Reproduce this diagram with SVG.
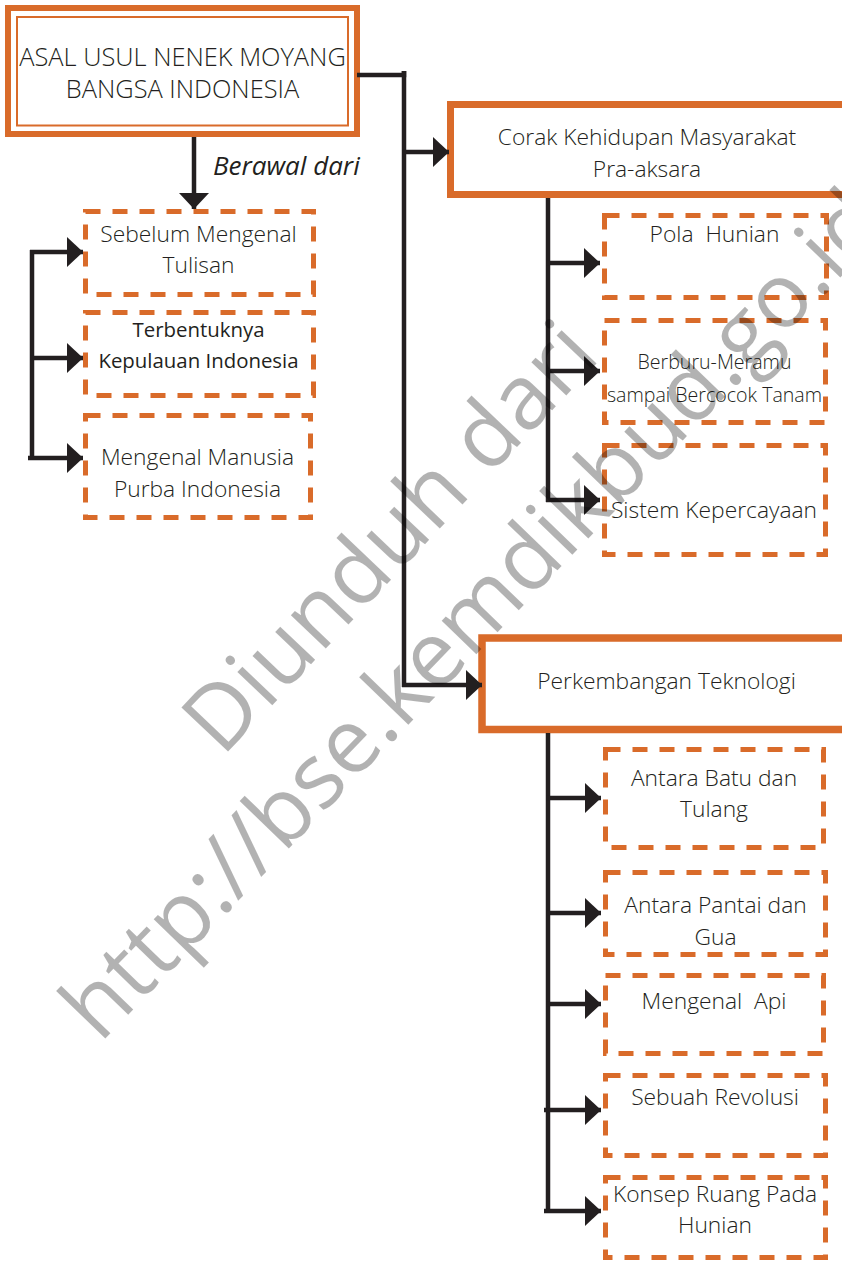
<svg xmlns="http://www.w3.org/2000/svg" width="842" height="1261" viewBox="0 0 842 1261">
<style>
  text { font-family: "Open Sans", "Liberation Sans", sans-serif; fill: #231F20; }
  .t { font-size: 22.8px; font-weight: 300; text-anchor: middle; }
  .ts { font-size: 19.6px; font-weight: 300; text-anchor: middle; }
  .tr { font-size: 20.4px; font-weight: 400; text-anchor: middle; }
  .title { font-size: 25.4px; font-weight: 300; text-anchor: middle; }
  .lbl { font-size: 26px; font-style: italic; font-weight: 400; }
  .thick { fill: #fff; stroke: #D96B2A; }
  .dash { fill: #fff; stroke: #D96B2A; stroke-width: 5; stroke-dasharray: 15 12; }
  .conn line, .conn polyline { stroke: #231F20; stroke-width: 4.5; fill: none; }
  .arr { marker-end: url(#ah); }
  .wm { font-family: "Open Sans", "Liberation Sans", sans-serif; font-size: 90px; fill: #000; fill-opacity: 0.3; }
</style>
<defs>
  <marker id="ah" markerUnits="userSpaceOnUse" markerWidth="17" markerHeight="31" refX="16" refY="15" orient="auto" viewBox="0 0 17 31">
    <path d="M0,0 L16,15 L0,30 Z" fill="#231F20"/>
  </marker>
</defs>
<rect width="842" height="1261" fill="#fff"/>

<g id="root">
  <rect class="thick" x="8" y="8" width="349" height="126" stroke-width="6"/>
  <rect x="17" y="17" width="331" height="108.5" fill="none" stroke="#D96B2A" stroke-width="2"/>
  <text class="title" x="182.5" y="66">ASAL USUL NENEK MOYANG</text>
  <text class="title" x="182.5" y="98">BANGSA INDONESIA</text>
</g>

<g id="label-berawal">
  <text class="lbl" x="213" y="175">Berawal dari</text>
</g>

<g id="sebelum">
  <rect class="dash" x="85.5" y="211.5" width="228" height="83"/>
  <text class="t" x="198.5" y="242">Sebelum Mengenal</text>
  <text class="t" x="198.5" y="273">Tulisan</text>
</g>
<g id="terbentuknya">
  <rect class="dash" x="85.5" y="312.5" width="228" height="83"/>
  <text class="tr" x="198.5" y="337">Terbentuknya</text>
  <text class="tr" x="198.5" y="368">Kepulauan Indonesia</text>
</g>
<g id="manusia">
  <rect class="dash" x="85.5" y="415.5" width="225" height="102"/>
  <text class="t" x="197.5" y="465">Mengenal Manusia</text>
  <text class="t" x="197.5" y="497">Purba Indonesia</text>
</g>

<g id="corak">
  <rect class="thick" x="450.5" y="104.5" width="420" height="90" stroke-width="7"/>
  <text class="t" x="647" y="145">Corak Kehidupan Masyarakat</text>
  <text class="t" x="647" y="177">Pra-aksara</text>
</g>
<g id="pola">
  <rect class="dash" x="604.5" y="215.5" width="222" height="82"/>
  <text class="t" x="714.5" y="242" xml:space="preserve" style="white-space:pre">Pola  Hunian</text>
</g>
<g id="berburu">
  <rect class="dash" x="604.5" y="320.5" width="221" height="102"/>
  <text class="ts" x="714.5" y="369">Berburu-Meramu</text>
  <text class="ts" x="714.5" y="402">sampai Bercocok Tanam</text>
</g>
<g id="sistem">
  <rect class="dash" x="604.5" y="445.5" width="221" height="109"/>
  <text class="t" x="714" y="518">Sistem Kepercayaan</text>
</g>

<g id="perkembangan">
  <rect class="thick" x="482" y="638" width="380" height="91.5" stroke-width="7.5"/>
  <text class="t" x="666.5" y="689">Perkembangan Teknologi</text>
</g>
<g id="batu">
  <rect class="dash" x="605.5" y="749.5" width="218" height="98"/>
  <text class="t" x="714" y="786">Antara Batu dan</text>
  <text class="t" x="714" y="817">Tulang</text>
</g>
<g id="pantai">
  <rect class="dash" x="605.5" y="872.5" width="220" height="82"/>
  <text class="t" x="715.5" y="913">Antara Pantai dan</text>
  <text class="t" x="715.5" y="945">Gua</text>
</g>
<g id="api">
  <rect class="dash" x="605.5" y="975.5" width="218" height="78"/>
  <text class="t" x="714" y="1009" xml:space="preserve" style="white-space:pre">Mengenal  Api</text>
</g>
<g id="revolusi">
  <rect class="dash" x="605.5" y="1075.5" width="220" height="80"/>
  <text class="t" x="715" y="1105">Sebuah Revolusi</text>
</g>
<g id="konsep">
  <rect class="dash" x="605.5" y="1177.5" width="220" height="80"/>
  <text class="t" x="715" y="1202">Konsep Ruang Pada</text>
  <text class="t" x="715" y="1233">Hunian</text>
</g>

<g id="connectors" class="conn">
  <polyline points="357,75 404,75 404,71"/>
  <line x1="404" y1="71" x2="404" y2="687"/>
  <line class="arr" x1="402" y1="152" x2="449" y2="152"/>
  <line class="arr" x1="402" y1="685" x2="482" y2="685"/>
  <line class="arr" x1="194" y1="137" x2="194" y2="209"/>

  <line x1="32" y1="250" x2="32" y2="460"/>
  <line class="arr" x1="30" y1="252" x2="83" y2="252"/>
  <line class="arr" x1="30" y1="358" x2="83" y2="358"/>
  <line class="arr" x1="28" y1="458" x2="83" y2="458"/>

  <line x1="548" y1="198" x2="548" y2="502"/>
  <line class="arr" x1="546" y1="263" x2="600" y2="263"/>
  <line class="arr" x1="546" y1="371" x2="600" y2="371"/>
  <line class="arr" x1="546" y1="500" x2="600" y2="500"/>

  <line x1="548" y1="733" x2="548" y2="1213"/>
  <line class="arr" x1="546" y1="798" x2="601" y2="798"/>
  <line class="arr" x1="546" y1="913" x2="601" y2="913"/>
  <line class="arr" x1="546" y1="1004" x2="601" y2="1004"/>
  <line class="arr" x1="544" y1="1110" x2="601" y2="1110"/>
  <line class="arr" x1="544" y1="1211" x2="601" y2="1211"/>
</g>

<g id="watermark">
  <text class="wm" transform="translate(222,758) rotate(-46.5)">Diunduh dari</text>
  <text class="wm" transform="translate(100,1044) rotate(-46)">http://bse.kemdikbud.go.id</text>
</g>
</svg>
